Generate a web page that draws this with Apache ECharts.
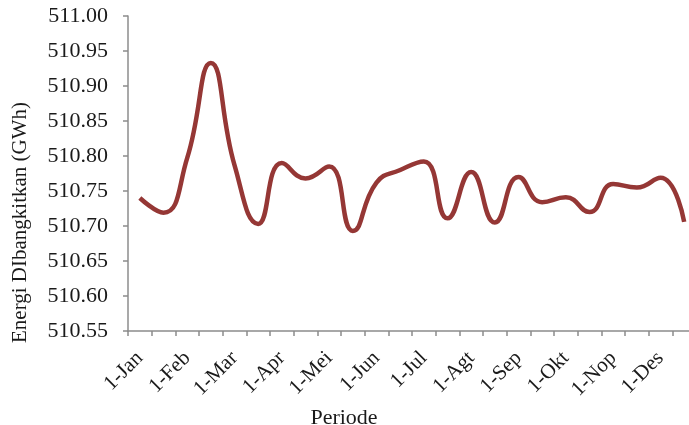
<!DOCTYPE html>
<html>
<head>
<meta charset="utf-8">
<script src="https://cdn.jsdelivr.net/npm/echarts@6/dist/echarts.min.js"></script>
<style>html,body{margin:0;padding:0;background:#fff}#c{width:689px;height:425px}</style>
</head>
<body>
<div id="c"></div>
<script>
const categories = ['1-Jan','15-Jan','1-Feb','15-Feb','1-Mar','15-Mar','1-Apr','15-Apr','1-Mei','15-Mei','1-Jun','15-Jun',
  '1-Jul','15-Jul','1-Agt','15-Agt','1-Sep','15-Sep','1-Okt','15-Okt','1-Nop','15-Nop','1-Des','15-Des'];
const energi = [510.740, 510.719, 510.797, 510.933, 510.787, 510.703, 510.790, 510.768, 510.785, 510.693, 510.762, 510.780,
  510.792, 510.711, 510.777, 510.705, 510.770, 510.734, 510.741, 510.720, 510.760, 510.755, 510.769, 510.706];
const yTicks = {min: 510.55, max: 511.00, interval: 0.05};

const font = 'Liberation Serif';
const chart = echarts.init(document.getElementById('c'));
chart.setOption({
  animation: false,
  grid: {left: 128, top: 16, bottom: 94, right: -7, containLabel: false, outerBoundsMode: 'none'},
  xAxis: {
    type: 'category', data: categories, boundaryGap: true,
    name: 'Periode', nameLocation: 'middle', nameGap: 63,
    nameTextStyle: {fontFamily: font, fontSize: 22, color: '#1a1a1a', padding: [0, 136, 0, 0]},
    axisLine: {lineStyle: {color: '#8c8c8c', width: 1.5}},
    axisTick: {show: true, interval: 0, length: 5, lineStyle: {color: '#8c8c8c', width: 1.5}},
    axisLabel: {interval: 1, rotate: 45, margin: 24, fontFamily: font, fontSize: 21, color: '#1a1a1a'},
    splitLine: {show: false}
  },
  yAxis: {
    type: 'value', min: yTicks.min, max: yTicks.max, interval: yTicks.interval,
    name: 'Energi DIbangkitkan (GWh)', nameLocation: 'middle', nameGap: 97, nameRotate: 90,
    nameTextStyle: {fontFamily: font, fontSize: 21, color: '#1a1a1a', padding: [0, 98, 0, 0]},
    axisLine: {show: true, lineStyle: {color: '#8c8c8c', width: 1.5}},
    axisTick: {show: true, length: 5, lineStyle: {color: '#8c8c8c', width: 1.5}},
    axisLabel: {margin: 20, fontFamily: font, fontSize: 22, color: '#1a1a1a', formatter: v => v.toFixed(2)},
    splitLine: {show: false}
  },
  series: [{
    type: 'line', data: energi, smooth: 0.5, showSymbol: false,
    lineStyle: {color: '#953735', width: 4.5}
  }]
});
</script>
</body>
</html>
